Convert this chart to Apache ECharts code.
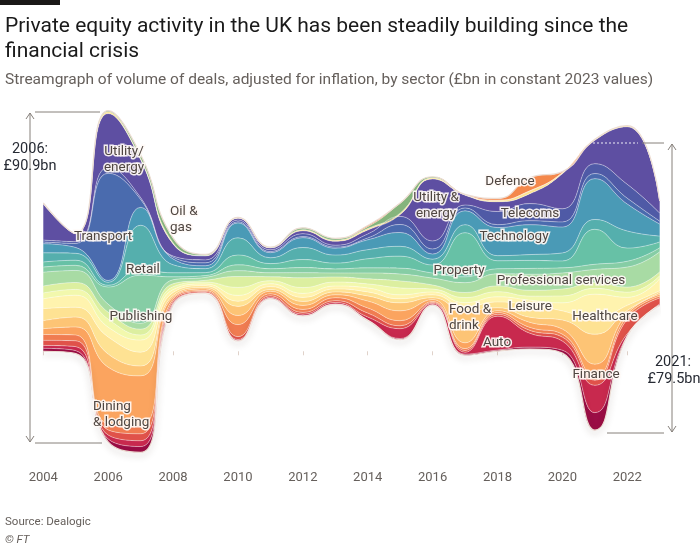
<!DOCTYPE html>
<html>
<head>
<meta charset="utf-8">
<title>UK private equity streamgraph</title>
<script src="https://cdn.jsdelivr.net/npm/echarts@6/dist/echarts.min.js"></script>
<style>
  html, body { margin: 0; padding: 0; background: #fff; }
  #chart { width: 700px; height: 547px; }
</style>
</head>
<body>
<div id="chart"></div>
<script>
// years on the x axis (annual points)
const years = ["2004", "2005", "2006", "2007", "2008", "2009", "2010", "2011", "2012", "2013",
               "2014", "2015", "2016", "2017", "2018", "2019", "2020", "2021", "2022", "2023"];

// deal volume by sector, £bn (constant 2023), listed bottom of the stream to top
const finance      = [0.8,0.8,0.8,1.6,0.3,0.1,0.1,0.1,0.1,0.1,0.1,0.3,0.1,0.3,0.3,0.5,0.8,4.8,0.1,0.1];
const auto         = [0.8,1.1,1.1,1.6,0.3,0.1,0.3,0.3,0.4,0.4,0.8,2.7,0.3,0.5,9.3,3.8,2.5,7.5,0.5,0.3];
const healthcare   = [1.4,1.6,1.4,1.9,0.5,0.3,0.8,0.4,0.5,0.5,1.1,0.8,0.3,0.5,0.5,0.8,1.1,1.4,4.0,1.6];
const otherA       = [1.6,1.6,1.6,2.2,0.5,0.3,3.3,0.5,0.8,0.8,1.4,1.4,0.3,0.5,0.5,0.8,0.8,1.1,0.8,0.5];
const dining       = [1.6,2.2,15.6,13.7,0.5,0.4,2.5,0.7,1.1,0.8,1.9,2.7,0.5,1.6,0.5,1.4,1.4,3.3,0.8,0.5];
const food         = [2.2,2.7,3.6,2.7,0.5,0.4,2.5,0.5,1.1,0.8,1.4,2.2,0.5,8.8,0.8,1.4,2.5,8.2,0.8,0.5];
const leisure      = [3.3,2.7,4.7,3.8,0.8,0.5,1.4,0.8,1.1,0.8,1.1,1.1,0.8,1.1,1.6,3.3,2.5,4.1,1.4,0.5];
const otherB       = [2.7,3.3,2.7,3.3,0.8,0.5,1.6,0.8,1.1,0.8,1.1,1.1,0.8,1.1,1.4,1.4,2.2,6.9,2.2,3.3];
const otherC       = [1.6,1.6,2.2,1.4,0.8,0.5,2.2,0.8,1.6,1.1,1.1,1.9,0.8,1.4,1.4,1.1,1.9,1.6,1.4,0.8];
const otherD       = [1.9,1.9,1.9,1.6,0.8,0.5,3.0,1.1,2.7,1.4,1.4,1.9,1.1,1.4,1.6,1.6,1.9,1.6,1.4,1.1];
const professional = [3.8,3.3,2.2,1.6,1.1,0.8,1.6,1.1,1.4,1.1,1.6,1.9,1.9,2.7,3.3,4.4,4.4,3.6,5.5,5.5];
const publishing   = [1.4,1.4,4.7,13.2,0.8,0.5,1.6,1.1,1.4,1.1,1.4,1.6,1.4,1.6,1.4,1.6,1.4,1.4,1.6,1.1];
const property     = [1.4,1.4,0.5,1.6,1.1,0.8,2.7,1.4,2.2,1.6,2.5,3.3,2.2,12.1,2.2,2.2,1.9,9.6,3.6,1.6];
const retail       = [2.5,1.9,0.8,12.1,2.2,1.1,4.7,1.6,3.3,2.2,2.5,2.7,1.6,2.2,1.4,1.6,2.2,2.7,4.7,1.6];
const technology   = [2.5,1.6,0.5,4.9,1.6,0.8,4.1,1.4,2.7,1.9,2.7,3.8,1.4,3.8,7.7,8.2,7.1,11.2,7.4,3.3];
const transport    = [0.5,1.1,29.4,2.2,0.5,0.8,0.3,0.3,0.3,0.3,0.5,2.2,1.4,0.8,0.8,1.1,1.4,1.4,1.6,0.8];
const telecoms     = [0.5,0.5,1.6,0.5,0.3,0.8,0.5,0.5,0.8,0.5,1.1,2.2,2.2,0.8,3.6,4.7,3.6,2.7,3.8,2.2];
const utility      = [9.9,2.2,14.8,10.4,3.3,1.1,0.5,0.5,0.8,1.1,1.1,0.5,17.0,2.7,2.7,2.7,9.6,6.4,15.8,3.3];
const otherE       = [0.3,0.1,0.5,0.3,0.3,0.1,0.1,0.1,0.3,0.3,0.4,0.4,0.3,0.1,0.4,0.8,0.3,0.3,0.3,0.1];
const oilGas       = [0,0,0.3,1.1,1.4,0.3,0.1,0.1,0.5,0.5,0.5,2.7,0.3,0.1,0,0,0,0,0,0];
const defence      = [0,0,0,0,0,0,0,0,0,0,0.3,0.1,0,0,0.5,3.6,0.3,0,0,0];

const layers = [
    { name: "Finance", values: finance, color: "#9b0d45" },
    { name: "Auto", values: auto, color: "#c8294e" },
    { name: "Healthcare", values: healthcare, color: "#e0524a" },
    { name: "Other A", values: otherA, color: "#f07c51" },
    { name: "Dining & lodging", values: dining, color: "#fba45f" },
    { name: "Food & drink", values: food, color: "#fdc475" },
    { name: "Leisure", values: leisure, color: "#fee293" },
    { name: "Other B", values: otherB, color: "#fff3ae" },
    { name: "Other C", values: otherC, color: "#f2f8ad" },
    { name: "Other D", values: otherD, color: "#dcefa0" },
    { name: "Professional services", values: professional, color: "#a8dba4" },
    { name: "Publishing", values: publishing, color: "#86cda5" },
    { name: "Property", values: property, color: "#67c1a6" },
    { name: "Retail", values: retail, color: "#55afad" },
    { name: "Technology", values: technology, color: "#4a9ab6" },
    { name: "Transport", values: transport, color: "#4a6bae" },
    { name: "Telecoms", values: telecoms, color: "#4f5aa6" },
    { name: "Utility & energy", values: utility, color: "#5e4fa2" },
    { name: "Other E", values: otherE, color: "#fde391" },
    { name: "Oil & gas", values: oilGas, color: "#85b47c" },
    { name: "Defence", values: defence, color: "#f4884b" },
];

// streamgraph baseline, same as d3.stackOffsetWiggle
function wiggleBaseline(series) {
    const n = series.length;
    const m = series[0].length;
    const base = [0];
    let y = 0;
    for (let j = 1; j < m; j++) {
        let s1 = 0, s2 = 0;
        for (let i = 0; i < n; i++) {
            const a = series[i][j];
            const b = series[i][j - 1];
            let s3 = (a - b) / 2;
            for (let k = 0; k < i; k++) {
                s3 += series[k][j] - series[k][j - 1];
            }
            s1 += a;
            s2 += s3 * a;
        }
        if (s1) y -= s2 / s1;
        base.push(y);
    }
    return base;
}

const baseline = wiggleBaseline(layers.map((l) => l.values));
const totals = years.map((_, j) => layers.reduce((s, l) => s + l.values[j], 0));
const lo = Math.min(...baseline);
const hi = Math.max(...baseline.map((b, j) => b + totals[j]));
const mid = (lo + hi) / 2;

// plot area is 363px tall at 3.645px per £bn
const gridTop = 100;
const gridHeight = 363;
const halfRange = gridHeight / 3.645 / 2;

const chart = echarts.init(document.getElementById("chart"));

const series = [
    {
        name: "base",
        type: "line",
        stack: "stream",
        stackStrategy: "all",
        smooth: true,
        symbol: "none",
        silent: true,
        data: baseline,
        lineStyle: {
            color: "#ecdcd2",
            width: 1.2,
            shadowColor: "rgba(60, 40, 30, 0.35)",
            shadowBlur: 6,
            shadowOffsetY: 3,
        },
        z: 2,
    },
];

layers.forEach((layer, i) => {
    const isTop = i === layers.length - 1;
    series.push({
        name: layer.name,
        type: "line",
        stack: "stream",
        stackStrategy: "all",
        smooth: true,
        symbol: "none",
        silent: true,
        data: layer.values,
        areaStyle: { color: layer.color, opacity: 1 },
        lineStyle: isTop
            ? { color: "#ecdcd2", width: 1.2 }
            : { color: "rgba(255, 255, 255, 0.55)", width: 0.7 },
        z: 2,
    });
});

const textColor = "#4f4641";
function label(text, x, y, align) {
    return {
        type: "text",
        z: 100,
        silent: true,
        style: {
            text: text,
            x: x,
            y: y,
            font: "13.5px Roboto",
            fill: textColor,
            stroke: "rgba(255, 250, 246, 0.92)",
            lineWidth: 3,
            strokeFirst: true,
            textAlign: align || "center",
            align: align || "center",
            textVerticalAlign: "middle",
            verticalAlign: "middle",
            lineHeight: 16,
        },
    };
}

const annoColor = "#86807b";
function seg(x1, y1, x2, y2, dash) {
    return {
        type: "line",
        z: 100,
        silent: true,
        shape: { x1, y1, x2, y2 },
        style: dash
            ? { stroke: "rgba(255,255,255,0.9)", lineWidth: 1, lineDash: [2, 2] }
            : { stroke: annoColor, lineWidth: 1 },
    };
}
function head(x, y, dir) {
    return {
        type: "polyline",
        z: 100,
        silent: true,
        shape: { points: [[x - 4, y + 6 * dir], [x, y], [x + 4, y + 6 * dir]] },
        style: { stroke: annoColor, fill: null, lineWidth: 1 },
    };
}
function note(text, x, y) {
    return {
        type: "text",
        z: 100,
        silent: true,
        style: {
            text: text,
            x: x,
            y: y,
            font: "14.5px Roboto",
            fill: "#262a33",
            textAlign: "center",
            align: "center",
            textVerticalAlign: "middle",
            verticalAlign: "middle",
        },
    };
}

const option = {
    animation: false,
    backgroundColor: "#ffffff",
    title: [
        {
            text: "Private equity activity in the UK has been steadily building since the\nfinancial crisis",
            left: 0,
            top: 9,
            textStyle: {
                fontFamily: "Roboto",
                fontSize: 21,
                fontWeight: "normal",
                color: "#1a1a1a",
                lineHeight: 25,
            },
        },
        {
            text: "Streamgraph of volume of deals, adjusted for inflation, by sector (£bn in constant 2023 values)",
            left: 0,
            top: 67,
            textStyle: {
                fontFamily: "Roboto",
                fontSize: 15.5,
                fontWeight: "normal",
                color: "#66605c",
            },
        },
        {
            text: "Source: Dealogic",
            left: 0,
            top: 511,
            textStyle: { fontFamily: "Roboto", fontSize: 11.5, fontWeight: "normal", color: "#66605c" },
        },
        {
            text: "© FT",
            left: 0,
            top: 529,
            textStyle: { fontFamily: "Roboto", fontSize: 11.5, fontStyle: "italic", fontWeight: "normal", color: "#66605c" },
        },
    ],
    grid: {
        left: 43.3,
        right: 40.3,
        top: gridTop,
        height: gridHeight,
    },
    xAxis: {
        type: "category",
        data: years,
        boundaryGap: false,
        axisLine: { show: false },
        axisTick: {
            show: true,
            length: 4,
            interval: 1,
            lineStyle: { color: "#e0d2ca" },
        },
        axisLabel: {
            interval: 1,
            color: "#66605c",
            fontFamily: "Roboto",
            fontSize: 13,
            margin: 8,
        },
        splitLine: { show: false },
    },
    yAxis: {
        type: "value",
        show: false,
        min: mid - halfRange,
        max: mid + halfRange,
        splitLine: { show: false },
    },
    series: series,
    graphic: [
        { type: "rect", z: 100, shape: { x: 0, y: 0, width: 60, height: 5 }, style: { fill: "#1a1817" } },
        // 2006 annotation
        seg(30, 113, 30, 442),
        head(30, 113, 1),
        head(30, 442, -1),
        seg(35, 112, 100, 112),
        seg(35, 443, 102, 443),
        note("2006:", 30, 149),
        note("£90.9bn", 30, 166),
        // 2021 annotation
        seg(593, 143, 638, 143, true),
        seg(642, 143, 664, 143),
        seg(607, 433, 664, 433),
        seg(672, 144, 672, 432),
        head(672, 144, 1),
        head(672, 432, -1),
        note("2021:", 673, 362),
        note("£79.5bn", 674, 379),
        // sector labels
        label("Utility/\nenergy", 124, 160),
        label("Oil &\ngas", 170, 220, "left"),
        label("Transport", 103, 237),
        label("Retail", 143, 270),
        label("Publishing", 141, 317),
        label("Dining\n& lodging", 93, 415, "left"),
        label("Utility &\nenergy", 436, 206),
        label("Defence", 510, 182),
        label("Telecoms", 530, 214),
        label("Technology", 514, 237),
        label("Property", 459, 271),
        label("Professional services", 561, 281),
        label("Food &\ndrink", 449, 318, "left"),
        label("Leisure", 530, 307),
        label("Healthcare", 605, 317),
        label("Auto", 497, 343),
        label("Finance", 596, 375),
    ],
};

chart.setOption(option);
</script>
</body>
</html>
